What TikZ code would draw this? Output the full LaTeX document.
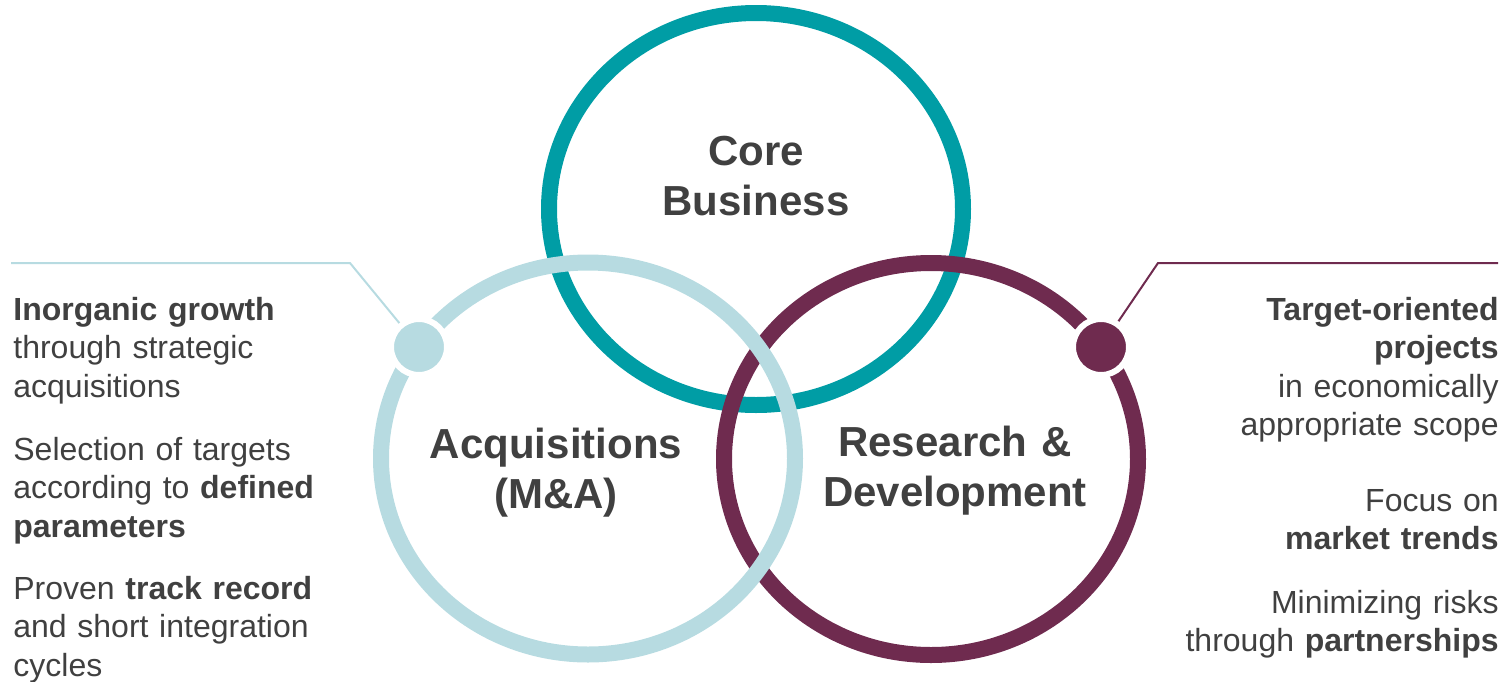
\documentclass[tikz,border=0pt]{standalone}
\usepackage{fontspec}
\setmainfont{Liberation Sans}
\usetikzlibrary{shapes.geometric}
\definecolor{coreteal}{RGB}{0,157,165}
\definecolor{acqblue}{RGB}{183,219,225}
\definecolor{rdpurple}{RGB}{111,43,79}
\definecolor{txtgray}{RGB}{64,64,64}
\begin{document}
\begin{tikzpicture}[x=0.5pt,y=-0.5pt,
  ring/.style={ellipse, draw, line width=8pt, minimum width=207pt, minimum height=196pt, inner sep=0pt},
  pindot/.style={circle, draw=white, line width=3pt, minimum size=28pt, inner sep=0pt},
  lead/.style={line width=1pt},
  title/.style={font=\bfseries\fontsize{21pt}{25pt}\selectfont, text=txtgray, align=center, text width=180pt, inner sep=0pt, anchor=base},
  bodyl/.style={font=\fontsize{16pt}{19.25pt}\selectfont, text=txtgray, align=left, text width=175pt, inner sep=0pt, anchor=base west},
  bodyr/.style={font=\fontsize{16pt}{19.25pt}\selectfont, text=txtgray, align=right, text width=175pt, inner sep=0pt, anchor=base east}]
\useasboundingbox (0,0) rectangle (1511,681);
% circles
\node[ring, draw=coreteal] (core) at (756,209) {};
\node[ring, draw=rdpurple] (rd) at (931,459) {};
\node[ring, draw=acqblue] (acq) at (588,458.5) {};
% leader lines
\coordinate (acqpin) at (419,347);
\coordinate (acqbend) at (350,263);
\coordinate (acqend) at (11,263);
\coordinate (rdpin) at (1101,347);
\coordinate (rdbend) at (1158,263);
\coordinate (rdend) at (1498,263);
\draw[lead, draw=acqblue] (acqpin) -- (acqbend) -- (acqend);
\draw[lead, draw=rdpurple] (rdpin) -- (rdbend) -- (rdend);
\node[pindot, fill=acqblue] (acqdot) at (acqpin) {};
\node[pindot, fill=rdpurple] (rddot) at (rdpin) {};
% titles
\node[title] (coretxt) at (756,165) {Core\\Business};
\node[title] (acqtxt) at (556,458) {Acquisitions\\(M\&A)};
\node[title] (rdtxt) at (955,456) {Research \&\\Development};
% left texts
\node[bodyl] (l1) at (13,320) {\textbf{Inorganic growth}\\through strategic\\acquisitions};
\node[bodyl] (l2) at (13,460) {Selection of targets\\according to \textbf{defined}\\\textbf{parameters}};
\node[bodyl] (l3) at (13,599) {Proven \textbf{track record}\\and short integration\\cycles};
% right texts
\node[bodyr] (r1) at (1499,320) {\textbf{Target-oriented}\\\textbf{projects}\\in economically\\appropriate scope};
\node[bodyr] (r2) at (1499,511) {Focus on\\\textbf{market trends}};
\node[bodyr] (r3) at (1499,613) {Minimizing risks\\through \textbf{partnerships}};
\end{tikzpicture}
\end{document}
